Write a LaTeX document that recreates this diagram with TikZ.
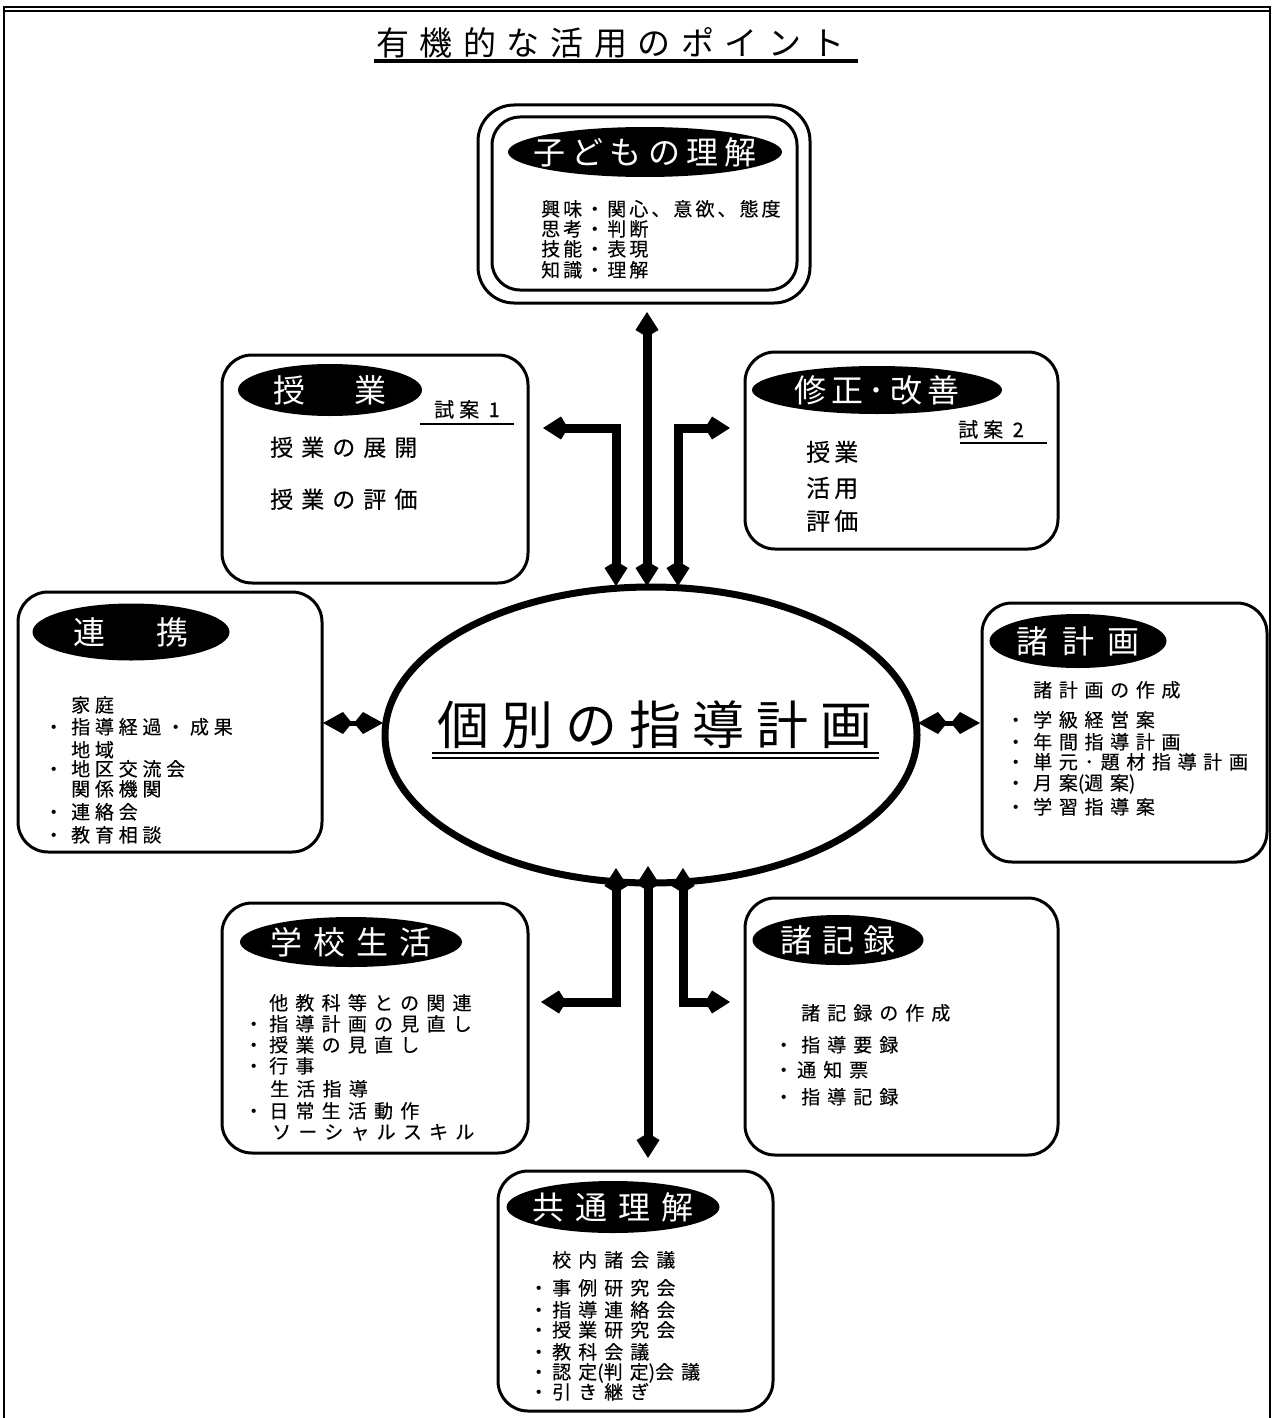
\documentclass[tikz,border=0pt]{standalone}
\usepackage{fontspec}
\setmainfont{Noto Sans CJK JP}
\usetikzlibrary{shapes.geometric,arrows.meta}
\newcommand\jfont[2]{\fontsize{#1}{#1}\selectfont\addfontfeature{LetterSpace=#2}}
\newcommand\jbfont[2]{\fontsize{#1}{#1}\selectfont\addfontfeature{LetterSpace=#2,FakeBold=0.3}}
\newcommand\mybul[1][27pt]{\makebox[#1][l]{・}}
\newcommand\myind[1][27pt]{\hspace*{#1}}
\newcommand\lbl[1]{\smash{\makebox[0pt]{\raisebox{-0.38em}{#1}}}}
\newcommand\tightp[1]{{\addfontfeature{LetterSpace=0}#1}}
\tikzset{
  kh/.tip={Kite[length=25pt,width=23pt,inset=7pt]},
  sh/.tip={Kite[length=29pt,width=22pt,inset=9pt]},
  box/.style={draw, line width=3pt, rounded corners=30pt, inner sep=0pt, outer sep=0pt},
  lab/.style={ellipse, fill=black, text=white, inner sep=0pt, font=\jfont{32}{#1}},
  lab/.default=30,
  body/.style={anchor=base west, inner sep=0pt, font=\jbfont{19}{#1}},
  body/.default=30,
  bigarrow/.style={line width=9pt, kh-kh},
  smallarrow/.style={line width=5pt, sh-sh},
}
\begin{document}
\begin{tikzpicture}[x=1pt,y=-1pt]
\useasboundingbox (0,0) rectangle (1274,1418);
% outer frame
\draw[line width=1.5pt] (4,1430) -- (4,7) -- (1270,7) -- (1270,1430);
\draw[line width=1.2pt] (4,11) -- (1270,11);
% title
\node[anchor=base west, inner sep=0pt, font=\jfont{33}{32}] (title) at (376,55.5) {有機的な活用のポイント};
\draw[line width=4pt] (374,61.5) -- (858,61.5);

% ---------- boxes ----------
\node[box, rounded corners=36pt, minimum width=332pt, minimum height=198pt] (kodomoO) at (644,204) {};
\node[box, rounded corners=28pt, minimum width=305pt, minimum height=173pt] (kodomo) at (644.5,203.5) {};
\node[box, minimum width=306pt, minimum height=228pt] (jugyo) at (375,469) {};
\node[box, minimum width=313pt, minimum height=197pt] (shusei) at (901.5,450.5) {};
\node[box, minimum width=304pt, minimum height=260pt] (renkei) at (170,722) {};
\node[box, minimum width=285pt, minimum height=259pt] (keikaku) at (1124.5,732.5) {};
\node[box, minimum width=306pt, minimum height=250pt] (gakko) at (375,1028) {};
\node[box, minimum width=313pt, minimum height=257pt] (kiroku) at (901.5,1026.5) {};
\node[box, minimum width=275pt, minimum height=240pt] (kyotsu) at (635.5,1291) {};

% ---------- label ellipses ----------
\node[lab=19, minimum width=274pt, minimum height=50pt] (kodomoL) at (645,152) {\lbl{子どもの理解}};
\node[lab=28, minimum width=184pt, minimum height=52pt] (jugyoL) at (330,390) {\lbl{授　業}};
\node[lab=16, minimum width=250pt, minimum height=48pt] (shuseiL) at (877,390) {\lbl{修正･\,改善}};
\node[lab=31, minimum width=197pt, minimum height=57pt] (renkeiL) at (131,632) {\lbl{連　携}};
\node[lab=41, minimum width=177pt, minimum height=54pt] (keikakuL) at (1078,641) {\lbl{諸計画}};
\node[lab=34, minimum width=222pt, minimum height=50pt] (gakkoL) at (351,942) {\lbl{学校生活}};
\node[lab=31, minimum width=171pt, minimum height=50pt] (kirokuL) at (838,940) {\lbl{諸記録}};
\node[lab=34, minimum width=213pt, minimum height=52pt] (kyotsuL) at (613,1207) {\lbl{共通理解}};

% ---------- centre ----------
\node[ellipse, draw, line width=7pt, minimum width=532pt, minimum height=296pt, inner sep=0pt] (plan) at (651,735) {};
\node[anchor=base west, inner sep=0pt, font=\jfont{52}{23}] (planT) at (437,744) {個別の指導計画};
\draw[line width=1.5pt] (432,753) -- (879,753);
\draw[line width=1.5pt] (432,758) -- (879,758);

% ---------- texts ----------
\foreach \yy/\t [count=\i] in {216/{興味・関心、意欲、態度},236/{思考・判断},256/{技能・表現},277/{知識・理解}}
  \node[body=16] (kodomoT\i) at (541,\yy) {\t};

\node[anchor=base west, inner sep=0pt, font=\jbfont{20}{25}] (shian1) at (434,417) {試案 1};
\draw[line width=1.5pt] (420,424) -- (514,424);
\foreach \yy/\t [count=\i] in {456/{授業の展開},508/{授業の評価}}
  \node[anchor=base west, inner sep=0pt, font=\jbfont{23}{35}] (jugyoT\i) at (270,\yy) {\t};

\node[anchor=base west, inner sep=0pt, font=\jbfont{20}{25}] (shian2) at (958,437) {試案 2};
\draw[line width=1.5pt] (960,443) -- (1047,443);
\foreach \yy/\t [count=\i] in {461/{授業},497/{活用},530/{評価}}
  \node[anchor=base west, inner sep=0pt, font=\jbfont{24}{17}] (shuseiT\i) at (806,\yy) {\t};

\foreach \yy/\t [count=\i] in {712/{\myind 家庭},734/{\mybul 指導経過・成果},757/{\myind 地域},776/{\mybul 地区交流会},796/{\myind 関係機関},819/{\mybul 連絡会},842/{\mybul 教育相談}}
  \node[body=25] (renkeiT\i) at (44,\yy) {\t};

\foreach \yy/\t [count=\i] in {697/{\myind 諸計画の作成},727/{\mybul 学級経営案},749/{\mybul 年間指導計画},769/{\mybul 単元･題材指導計画},790/{\mybul 月案\tightp{(}週案\tightp{)}},814/{\mybul 学習指導案}}
  \node[body=35] (keikakuT\i) at (1006,\yy) {\t};

\foreach \yy/\t [count=\i] in {1010/{\myind[25pt]他教科等との関連},1031/{\mybul[25pt]指導計画の見直し},1052/{\mybul[25pt]授業の見直し},1073/{\mybul[25pt]行事},1096/{\myind[26pt]生活指導},1118/{\mybul[25pt]日常生活動作},1139/{\myind[28pt]ソーシャルスキル}}
  \node[body=38] (gakkoT\i) at (244,\yy) {\t};

\foreach \yy/\t [count=\i] in {1020/{\myind 諸記録の作成},1052/{\mybul 指導要録},1077/{\mybul[23pt]通知票},1104/{\mybul 指導記録}}
  \node[body=37] (kirokuT\i) at (774,\yy) {\t};

\foreach \yy/\t [count=\i] in {1267/{\myind[23pt]校内諸会議},1295/{\mybul[23pt]事例研究会},1317/{\mybul[23pt]指導連絡会},1337/{\mybul[23pt]授業研究会},1359/{\mybul[23pt]教科会議},1379/{\mybul[23pt]認定\tightp{(}判定\tightp{)}会議},1399/{\mybul[23pt]引き継ぎ}}
  \node[body=37] (kyotsuT\i) at (529,\yy) {\t};

% ---------- connectors ----------
\coordinate (tTop) at (647,312);
\coordinate (tPlanC) at (647,586);
\coordinate (tJug) at (543,428);
\coordinate (tPlanL) at (616,586);
\coordinate (tPlanR) at (678,586);
\coordinate (tShu) at (730,428);
\draw[bigarrow] (tTop) -- (tPlanC);
\draw[bigarrow] (tJug) -| (tPlanL);
\draw[bigarrow] (tPlanR) |- (tShu);

\coordinate (mRen) at (323,723);
\coordinate (mPlanL) at (383,723);
\coordinate (mPlanR) at (918,723);
\coordinate (mKei) at (980,723);
\draw[smallarrow] (mRen) -- (mPlanL);
\draw[smallarrow] (mPlanR) -- (mKei);

\coordinate (bPlanL) at (616,868);
\coordinate (bPlanC) at (648,866);
\coordinate (bPlanR) at (683,868);
\coordinate (bGak) at (541,1002);
\coordinate (bKyo) at (648,1158);
\coordinate (bKir) at (730,1002);
\draw[bigarrow] (bGak) -| (bPlanL);
\draw[bigarrow] (bPlanC) -- (bKyo);
\draw[bigarrow] (bPlanR) |- (bKir);
\end{tikzpicture}
\end{document}
